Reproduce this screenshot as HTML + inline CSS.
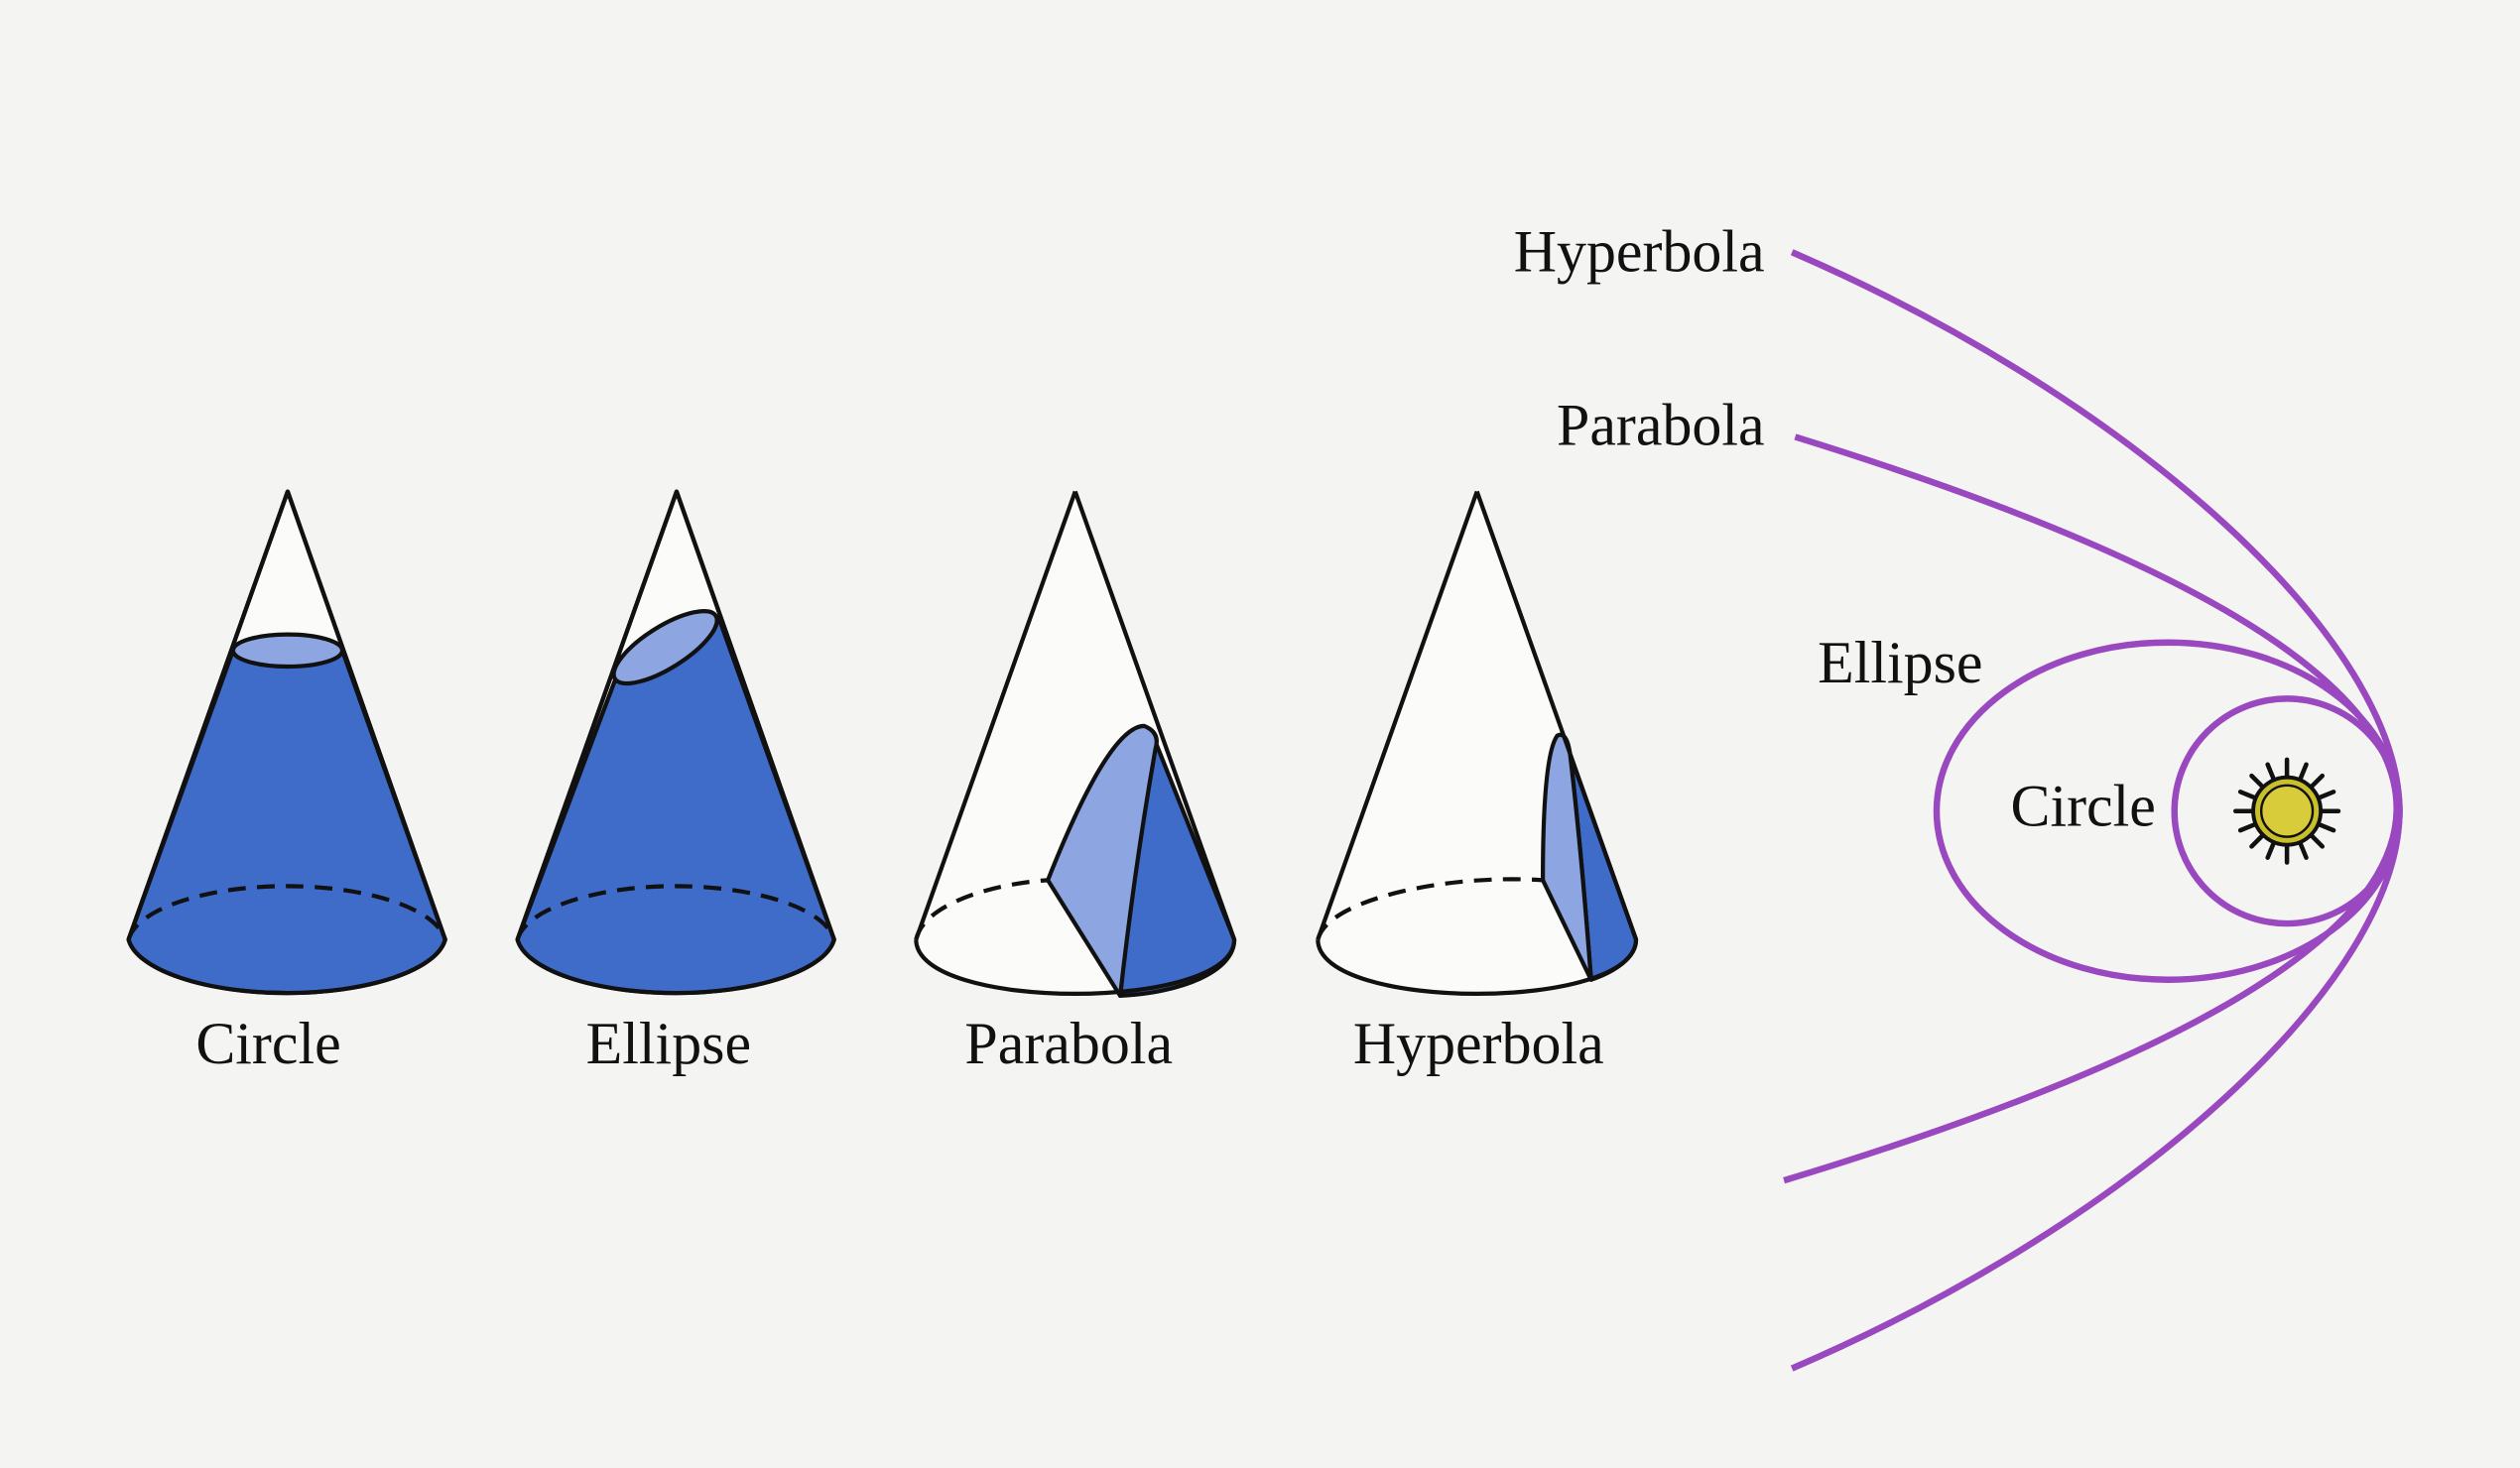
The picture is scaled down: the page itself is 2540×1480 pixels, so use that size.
<!DOCTYPE html>
<html><head><meta charset="utf-8"><style>
html,body{margin:0;padding:0;background:#f4f4f2;}
svg{display:block;}
text{font-family:"Liberation Serif",serif;font-size:37px;fill:#111;}
</style></head><body>
<svg width="2540" height="1480" viewBox="0 0 1568 914" preserveAspectRatio="none" xmlns="http://www.w3.org/2000/svg">
<rect width="1568" height="914" fill="#f4f4f2"/>
<g stroke="#111" stroke-width="2.6" stroke-linejoin="round">
<!-- Cone 1 -->
<path d="M179,306 L80,585 L277,585 Z" fill="#fbfbfa"/>
<path d="M145,405 L80,585 A99,37 0 0 0 277,585 L213,405 Z" fill="#3f6bc9"/>
<ellipse cx="179" cy="405" rx="34" ry="10" fill="#8da6e1"/>
<path d="M179,306 L80,585 M179,306 L277,585"/>
<path d="M80,585 A99,37 0 0 0 277,585" fill="none"/>
<path d="M80,585 A99,37 0 0 1 277,585" fill="none" stroke-dasharray="11,7"/>
<!-- Cone 2 -->
<path d="M421,306 L322,585 L519,585 Z" fill="#fbfbfa"/>
<path d="M384,420 L322,585 A99,37 0 0 0 519,585 L447,384 Z" fill="#3f6bc9"/>
<ellipse cx="414" cy="403" rx="37" ry="13" transform="rotate(-32 414 403)" fill="#8da6e1"/>
<path d="M421,306 L322,585 M421,306 L519,585"/>
<path d="M322,585 A99,37 0 0 0 519,585" fill="none"/>
<path d="M322,585 A99,37 0 0 1 519,585" fill="none" stroke-dasharray="11,7"/>
<!-- Cone 3 -->
<path d="M669,306 L570,585 C570,630 768,630 768,585 Z" fill="#fbfbfa" stroke="none"/>
<path d="M719,462 L768,585 C768,605 735,618 697,620 Q706,530 719,462 Z" fill="#3f6bc9"/>
<path d="M652,548 Q690,452 712,452 Q722,456 719,466 Q706,540 697,620 Z" fill="#8da6e1"/>
<path d="M669,306 L570,585 M669,306 L768,585" fill="none"/>
<path d="M570,585 C570,630 768,630 768,585" fill="none"/>
<path d="M570,585 C575,562 620,550 652,548" fill="none" stroke-dasharray="11,7"/>
<!-- Cone 4 -->
<path d="M919,306 L820,585 C820,630 1018,630 1018,585 Z" fill="#fbfbfa" stroke="none"/>
<path d="M977,470 L1018,585 C1018,596 1005,605 990,610 Q984,530 977,470 Z" fill="#3f6bc9"/>
<path d="M960,548 Q960,470 969,458 Q975,455 977,470 Q984,530 990,610 Z" fill="#8da6e1"/>
<path d="M919,306 L820,585 M919,306 L1018,585" fill="none"/>
<path d="M820,585 C820,630 1018,630 1018,585" fill="none"/>
<path d="M820,585 C826,560 900,544 960,548" fill="none" stroke-dasharray="11,7"/>
</g>
<text x="167" y="662" text-anchor="middle">Circle</text>
<text x="416" y="662" text-anchor="middle">Ellipse</text>
<text x="665" y="662" text-anchor="middle">Parabola</text>
<text x="920" y="662" text-anchor="middle">Hyperbola</text>
<!-- orbits -->
<g fill="none" stroke="#9a48c0" stroke-width="4">
<circle cx="1423" cy="505" r="70"/>
<ellipse cx="1349" cy="505" rx="144" ry="105"/>
<path d="M1117,272 Q1869,505 1110,735"/>
<path d="M1115,157 C1330,250 1493,400 1493,505 C1493,610 1330,760 1115,852"/>
</g>
<text x="1098" y="169" text-anchor="end">Hyperbola</text>
<text x="1098" y="277" text-anchor="end">Parabola</text>
<text x="1131" y="425">Ellipse</text>
<text x="1251" y="514">Circle</text>
<!-- sun -->
<g transform="translate(1423,505)">
<g stroke="#111" stroke-width="2.8" stroke-linecap="round">
<line x1="0" y1="-20" x2="0" y2="-32"/><line x1="0" y1="20" x2="0" y2="32"/>
<line x1="-20" y1="0" x2="-32" y2="0"/><line x1="20" y1="0" x2="32" y2="0"/>
<line x1="14" y1="14" x2="22" y2="22"/><line x1="-14" y1="14" x2="-22" y2="22"/>
<line x1="14" y1="-14" x2="22" y2="-22"/><line x1="-14" y1="-14" x2="-22" y2="-22"/>
<line x1="7.7" y1="18.5" x2="12" y2="29"/><line x1="-7.7" y1="18.5" x2="-12" y2="29"/>
<line x1="7.7" y1="-18.5" x2="12" y2="-29"/><line x1="-7.7" y1="-18.5" x2="-12" y2="-29"/>
<line x1="18.5" y1="7.7" x2="29" y2="12"/><line x1="-18.5" y1="7.7" x2="-29" y2="12"/>
<line x1="18.5" y1="-7.7" x2="29" y2="-12"/><line x1="-18.5" y1="-7.7" x2="-29" y2="-12"/>
</g>
<circle r="21" fill="#c9bf2a" stroke="#111" stroke-width="2.4"/>
<circle r="16" fill="#d8cc3a" stroke="#111" stroke-width="1.5"/>
</g>
</svg>
</body></html>
